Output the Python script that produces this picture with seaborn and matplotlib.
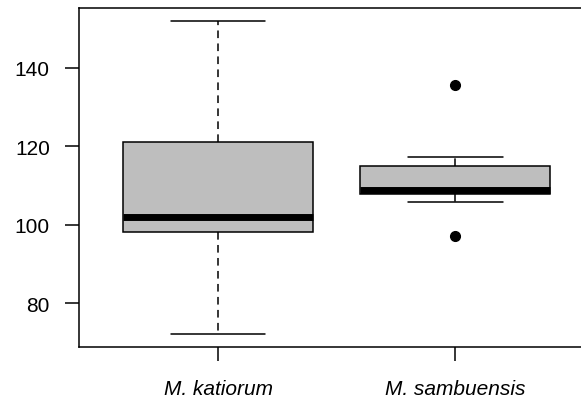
import pandas as pd
import matplotlib
matplotlib.use("Agg")
import matplotlib.pyplot as plt
import seaborn as sns

# values
species = ["M. katiorum", "M. sambuensis"]
katiorum = [72.1, 98.2, 102.1, 121.0, 152.1]
sambuensis = [97.0, 105.9, 107.9, 108.5, 108.8, 112.0, 115.0, 117.3, 135.7]
yticks = [80, 100, 120, 140]

df = pd.DataFrame({
    "species": [species[0]] * len(katiorum) + [species[1]] * len(sambuensis),
    "value": katiorum + sambuensis,
})

sns.set_style("white")
plt.rcParams["font.family"] = ["Liberation Sans", "DejaVu Sans"]

fig = plt.figure(figsize=(5.81, 4.02), dpi=100)
ax = fig.add_axes([0.136, 0.1343, 0.864, 0.8433])

sns.boxplot(data=df, x="species", y="value", order=species, ax=ax,
            width=0.8, color="#bebebe", linecolor="black", linewidth=1.1,
            whis=1.5, saturation=1,
            medianprops=dict(linewidth=5, color="black", solid_capstyle="butt"),
            whiskerprops=dict(linestyle=(0, (5, 3.5))),
            flierprops=dict(marker="o", markersize=7, markerfacecolor="black",
                            markeredgecolor="black"),
            capwidths=0.4)

ax.set_xlim(-0.586, 1.53)
ax.set_ylim(68.8, 155.3)
ax.set_yticks(yticks)
ax.set_yticklabels([str(t) for t in yticks], fontsize=15)
ax.set_xticks([0, 1])
ax.set_xticklabels(species, fontsize=15, fontstyle="italic")
ax.set_xlabel("")
ax.set_ylabel("")
ax.tick_params(axis="both", direction="out", length=10, width=1.1,
               color="black", labelcolor="black", bottom=True, left=True)
ax.tick_params(axis="y", pad=11)
ax.tick_params(axis="x", pad=13)
for side in ["left", "top", "bottom"]:
    ax.spines[side].set_visible(True)
    ax.spines[side].set_color("black")
    ax.spines[side].set_linewidth(1.1)
ax.spines["right"].set_visible(False)

fig.savefig("out.png", dpi=100)
